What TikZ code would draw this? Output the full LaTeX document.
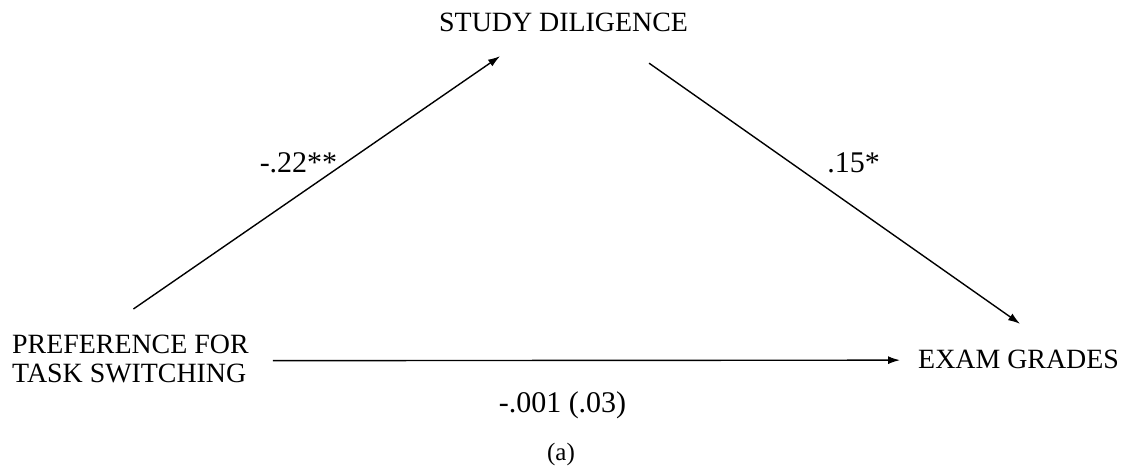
\documentclass[tikz,border=0pt]{standalone}
\usepackage{fontspec}
\setmainfont{Liberation Serif}
\usetikzlibrary{arrows.meta}
\begin{document}
\begin{tikzpicture}[x=1pt,y=-1pt,
  lbl/.style={inner sep=0pt,font=\fontsize{27.9}{29}\selectfont},
  coef/.style={inner sep=0pt,anchor=base,font=\fontsize{30}{32}\selectfont},
  conn/.style={line width=1.4pt,-{Latex[length=12pt,width=8pt]}}]
\useasboundingbox[fill=white] (0,0) rectangle (1128,475);
\node[lbl,anchor=base west] (sd) at (439,31.7) {STUDY DILIGENCE};
\node[lbl,anchor=north west,align=left] (pref) at (12,335) {PREFERENCE FOR\\TASK SWITCHING};
\node[lbl,anchor=base west] (eg) at (918,368) {EXAM GRADES};
\draw[conn] ([xshift=3pt,yshift=26pt]pref.north) -- ([xshift=-63.5pt,yshift=-24pt]sd.south);
\draw[conn] ([xshift=85.5pt,yshift=-31pt]sd.south) -- ([xshift=1.5pt,yshift=25.5pt]eg.north);
\draw[conn] ([xshift=24pt,yshift=-1.5pt]pref.east) -- ([xshift=-18pt,yshift=-1.25pt]eg.west);
\node[coef] (c1) at (298.5,172) {-.22**};
\node[coef] (c2) at (853.5,172) {.15*};
\node[coef] (c3) at (562.5,412) {-.001 (.03)};
\node[coef,font=\fontsize{25}{27}\selectfont] (cap) at (561,460) {(a)};
\end{tikzpicture}
\end{document}
